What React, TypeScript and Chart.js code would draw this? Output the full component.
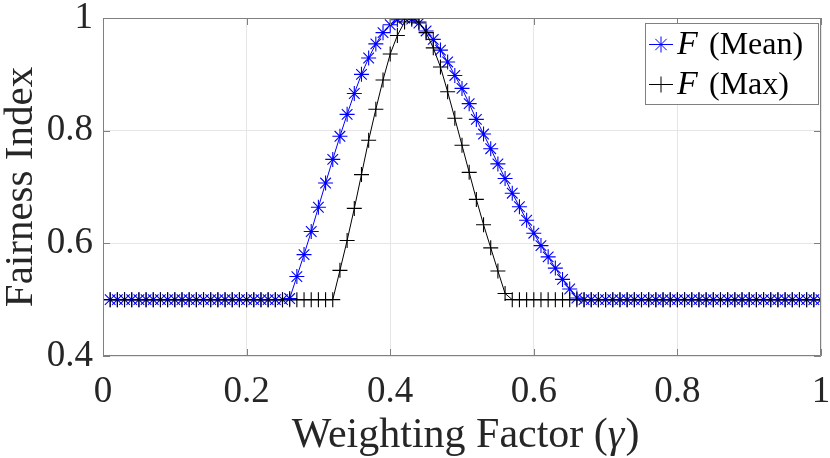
import { useEffect, useRef } from 'react';
import { Chart, registerables } from 'chart.js';

Chart.register(...registerables);

// weighting factor gamma (x) and the two fairness curves
const gamma = [
  0.01, 0.02, 0.03, 0.04, 0.05, 0.06, 0.07, 0.08, 0.09, 0.1,
  0.11, 0.12, 0.13, 0.14, 0.15, 0.16, 0.17, 0.18, 0.19, 0.2,
  0.21, 0.22, 0.23, 0.24, 0.25, 0.26, 0.27, 0.28, 0.29, 0.3,
  0.31, 0.32, 0.33, 0.34, 0.35, 0.36, 0.37, 0.38, 0.39, 0.4,
  0.41, 0.42, 0.43, 0.44, 0.45, 0.46, 0.47, 0.48, 0.49, 0.5,
  0.51, 0.52, 0.53, 0.54, 0.55, 0.56, 0.57, 0.58, 0.59, 0.6,
  0.61, 0.62, 0.63, 0.64, 0.65, 0.66, 0.67, 0.68, 0.69, 0.7,
  0.71, 0.72, 0.73, 0.74, 0.75, 0.76, 0.77, 0.78, 0.79, 0.8,
  0.81, 0.82, 0.83, 0.84, 0.85, 0.86, 0.87, 0.88, 0.89, 0.9,
  0.91, 0.92, 0.93, 0.94, 0.95, 0.96, 0.97, 0.98, 0.99, 1.0,
];

const fairMean = [
  0.5, 0.5, 0.5, 0.5, 0.5, 0.5, 0.5, 0.5, 0.5, 0.5,
  0.5, 0.5, 0.5, 0.5, 0.5, 0.5, 0.5, 0.5, 0.5, 0.5,
  0.5, 0.5, 0.5, 0.5, 0.5, 0.502, 0.541, 0.58, 0.621, 0.664,
  0.707, 0.749, 0.79, 0.829, 0.866, 0.9, 0.929, 0.954, 0.974, 0.988,
  0.997, 1.0, 0.998, 0.991, 0.977, 0.962, 0.943, 0.922, 0.898, 0.875,
  0.848, 0.82, 0.794, 0.768, 0.741, 0.715, 0.689, 0.665, 0.641, 0.618,
  0.596, 0.576, 0.556, 0.536, 0.519, 0.503, 0.5, 0.5, 0.5, 0.5,
  0.5, 0.5, 0.5, 0.5, 0.5, 0.5, 0.5, 0.5, 0.5, 0.5,
  0.5, 0.5, 0.5, 0.5, 0.5, 0.5, 0.5, 0.5, 0.5, 0.5,
  0.5, 0.5, 0.5, 0.5, 0.5, 0.5, 0.5, 0.5, 0.5, 0.5,
];

const fairMax = [
  0.5, 0.5, 0.5, 0.5, 0.5, 0.5, 0.5, 0.5, 0.5, 0.5,
  0.5, 0.5, 0.5, 0.5, 0.5, 0.5, 0.5, 0.5, 0.5, 0.5,
  0.5, 0.5, 0.5, 0.5, 0.5, 0.5, 0.5, 0.5, 0.5, 0.5,
  0.5, 0.5, 0.552, 0.605, 0.662, 0.722, 0.783, 0.838, 0.89, 0.936,
  0.969, 0.993, 1.0, 0.993, 0.974, 0.947, 0.913, 0.869, 0.822, 0.774,
  0.726, 0.678, 0.633, 0.592, 0.551, 0.511, 0.5, 0.5, 0.5, 0.5,
  0.5, 0.5, 0.5, 0.5, 0.5, 0.5, 0.5, 0.5, 0.5, 0.5,
  0.5, 0.5, 0.5, 0.5, 0.5, 0.5, 0.5, 0.5, 0.5, 0.5,
  0.5, 0.5, 0.5, 0.5, 0.5, 0.5, 0.5, 0.5, 0.5, 0.5,
  0.5, 0.5, 0.5, 0.5, 0.5, 0.5, 0.5, 0.5, 0.5, 0.5,
];

const xTicks = [0, 0.2, 0.4, 0.6, 0.8, 1];
const yTicks = [0.4, 0.6, 0.8, 1];

const SERIF = '"Liberation Serif", "Times New Roman", serif';
const TEXT = '#262626';
const AXIS = '#808080';
const GRID = '#e6e6e6';

function star(ctx: CanvasRenderingContext2D, x: number, y: number, r: number) {
  const d = r * Math.SQRT1_2;
  ctx.moveTo(x - r, y); ctx.lineTo(x + r, y);
  ctx.moveTo(x, y - r); ctx.lineTo(x, y + r);
  ctx.moveTo(x - d, y - d); ctx.lineTo(x + d, y + d);
  ctx.moveTo(x - d, y + d); ctx.lineTo(x + d, y - d);
}

function plus(ctx: CanvasRenderingContext2D, x: number, y: number, r: number) {
  ctx.moveTo(x - r, y); ctx.lineTo(x + r, y);
  ctx.moveTo(x, y - r); ctx.lineTo(x, y + r);
}

// box, inner ticks, axis titles and the legend (italic F needs mixed fonts)
const framePlugin = {
  id: 'frame',
  afterDraw(chart: any) {
    const { ctx, chartArea, scales } = chart;
    const { left, right, top, bottom } = chartArea;
    ctx.save();

    ctx.strokeStyle = AXIS;
    ctx.lineWidth = 1;
    ctx.beginPath();
    ctx.rect(left + 0.5, top + 0.5, right - left - 1, bottom - top - 1);
    xTicks.forEach((v) => {
      const px = Math.round(scales.x.getPixelForValue(v)) + 0.5;
      ctx.moveTo(px, bottom); ctx.lineTo(px, bottom - 7);
      ctx.moveTo(px, top); ctx.lineTo(px, top + 7);
    });
    yTicks.forEach((v) => {
      const py = Math.round(scales.y.getPixelForValue(v)) + 0.5;
      ctx.moveTo(left, py); ctx.lineTo(left + 7, py);
      ctx.moveTo(right, py); ctx.lineTo(right - 7, py);
    });
    ctx.stroke();

    // axis titles
    ctx.fillStyle = TEXT;
    ctx.textBaseline = 'alphabetic';
    const a = 'Weighting Factor (';
    const g = 'γ';
    const c = ')';
    ctx.font = `42px ${SERIF}`;
    const wa = ctx.measureText(a).width;
    const wc = ctx.measureText(c).width;
    ctx.font = `italic 42px ${SERIF}`;
    const wg = ctx.measureText(g).width;
    const cx = (left + right) / 2 + 3;
    let tx = cx - (wa + wg + wc) / 2;
    ctx.textAlign = 'left';
    ctx.font = `42px ${SERIF}`;
    ctx.fillText(a, tx, 447);
    tx += wa;
    ctx.font = `italic 42px ${SERIF}`;
    ctx.fillText(g, tx, 447);
    tx += wg + 1;
    ctx.font = `42px ${SERIF}`;
    ctx.fillText(c, tx, 447);

    ctx.save();
    ctx.translate(32, (top + bottom) / 2);
    ctx.rotate(-Math.PI / 2);
    ctx.textAlign = 'center';
    ctx.font = `41px ${SERIF}`;
    ctx.fillText('Fairness Index', 0, 0);
    ctx.restore();

    // legend
    const lx = 645, ly = 23, lw = 173, lh = 81;
    ctx.fillStyle = '#ffffff';
    ctx.fillRect(lx, ly, lw, lh);
    ctx.strokeStyle = AXIS;
    ctx.strokeRect(lx + 0.5, ly + 0.5, lw, lh);

    const rows = [
      { label: '(Mean)', color: '#0000ff', mark: star, y: 44 },
      { label: '(Max)', color: '#000000', mark: plus, y: 84 },
    ];
    rows.forEach((r) => {
      ctx.strokeStyle = r.color;
      ctx.lineWidth = 1;
      ctx.beginPath();
      ctx.moveTo(649, r.y + 0.5); ctx.lineTo(673, r.y + 0.5);
      r.mark(ctx, 661, r.y + 0.5, 8);
      ctx.stroke();
      ctx.fillStyle = '#000000';
      ctx.textAlign = 'left';
      ctx.font = `italic 34px ${SERIF}`;
      ctx.fillText('F', 677, r.y + 10);
      ctx.font = `32px ${SERIF}`;
      ctx.fillText(r.label, 709, r.y + 10);
    });

    ctx.restore();
  },
};

export default function App() {
  const canvasRef = useRef<HTMLCanvasElement>(null);

  useEffect(() => {
    document.body.style.margin = '0';
    if (!canvasRef.current) return;

    const chart = new Chart(canvasRef.current, {
      type: 'line',
      data: {
        datasets: [
          {
            label: 'F (Mean)',
            data: gamma.map((g, i) => ({ x: g, y: fairMean[i] })),
            borderColor: '#0000ff',
            backgroundColor: '#0000ff',
            borderWidth: 1,
            pointStyle: 'star',
            pointRadius: 7.5,
            pointBorderWidth: 1.1,
            pointBorderColor: '#0000ff',
            order: 2,
          },
          {
            label: 'F (Max)',
            data: gamma.map((g, i) => ({ x: g, y: fairMax[i] })),
            borderColor: '#000000',
            backgroundColor: '#000000',
            borderWidth: 1,
            pointStyle: 'cross',
            pointRadius: 7.5,
            pointBorderWidth: 1.1,
            pointBorderColor: '#000000',
            order: 1,
          },
        ],
      },
      options: {
        responsive: false,
        animation: false,
        devicePixelRatio: 1,
        layout: { padding: { left: 0, top: 18, right: 9, bottom: 0 } },
        plugins: {
          legend: { display: false },
          tooltip: { enabled: false },
        },
        scales: {
          x: {
            type: 'linear',
            min: 0,
            max: 1,
            afterBuildTicks: (s: any) => { s.ticks = xTicks.map((v) => ({ value: v })); },
            afterFit: (s: any) => { s.height = 102; s.paddingLeft = 0; s.paddingRight = 0; },
            grid: { color: GRID, drawTicks: false },
            border: { display: false },
            ticks: {
              color: TEXT,
              padding: 14,
              maxRotation: 0,
              font: { family: SERIF, size: 37 },
              callback: (v: any) => String(v),
            },
          },
          y: {
            min: 0.4,
            max: 1,
            afterBuildTicks: (s: any) => { s.ticks = yTicks.map((v) => ({ value: v })); },
            afterFit: (s: any) => { s.width = 103; s.paddingTop = 0; s.paddingBottom = 0; },
            grid: { color: GRID, drawTicks: false },
            border: { display: false },
            ticks: {
              color: TEXT,
              padding: 10,
              font: { family: SERIF, size: 37 },
              callback: (v: any) => String(v),
            },
          },
        },
      },
      plugins: [framePlugin],
    });

    return () => chart.destroy();
  }, []);

  return (
    <div style={{ width: 830, height: 458, background: '#fff' }}>
      <canvas ref={canvasRef} width={830} height={458}></canvas>
    </div>
  );
}
